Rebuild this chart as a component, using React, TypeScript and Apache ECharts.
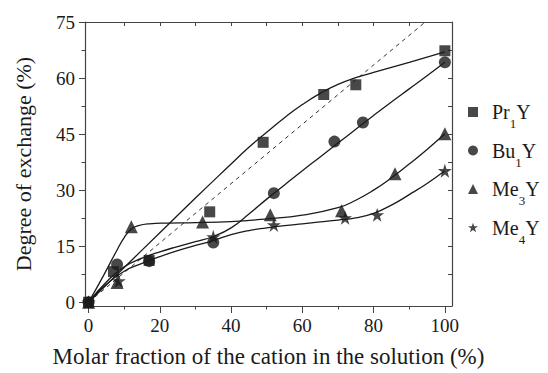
import React, { useEffect, useRef } from "react";
import * as echarts from "echarts";

// Measured points
const prX = [0, 7, 17, 34, 49, 66, 75, 100];
const prY = [0, 8.2, 11.2, 24.2, 42.8, 55.6, 58.2, 67.3];
const buX = [0, 8, 17, 35, 52, 69, 77, 100];
const buY = [0, 10.1, 11, 16, 29.2, 43, 48.1, 64.2];
const me3X = [0, 8, 12, 32, 51, 71, 86, 100];
const me3Y = [0, 5.3, 20.2, 21.5, 23.4, 24.5, 34.4, 45.1];
const me4X = [0, 8.5, 35, 52, 72, 81, 100];
const me4Y = [0, 5.7, 17.5, 20.7, 22.6, 23.4, 35.2];

// Fitted curves
const prFitX = [0, 10, 20, 30, 40, 45, 50, 55, 60, 65, 70, 75, 80, 90, 100];
const prFitY = [0, 9.3, 18.6, 27.9, 37, 41.5, 45.5, 49.4, 52.9, 55.9, 58.3, 60.1, 61.5, 64.2, 67];
const buFitX = [0, 5, 10, 15, 20, 25, 30, 35, 40, 45, 50, 55, 60, 65, 70, 75, 80, 85, 90, 95, 100];
const buFitY = [0, 5.4, 9.5, 11.8, 13.5, 14.9, 16.2, 17.6, 19.9, 23.6, 27.6, 31.4, 35.2, 38.9, 42.6, 46.3, 50, 53.6, 57.1, 60.6, 64.2];
const me3FitX = [0, 4, 8, 10, 12, 14, 17, 22, 30, 40, 50, 60, 70, 75, 80, 85, 90, 95, 100];
const me3FitY = [0, 6.8, 14, 17.3, 19.6, 20.5, 21, 21.2, 21.3, 21.6, 22.3, 23.3, 25.3, 27.3, 30, 33.3, 37, 40.9, 45.1];
const me4FitX = [0, 5, 10, 15, 20, 25, 30, 35, 40, 45, 50, 55, 60, 65, 70, 75, 80, 85, 90, 95, 100];
const me4FitY = [0, 4.8, 8.3, 10.4, 12.2, 13.8, 15.2, 16.5, 18.1, 19.2, 19.9, 20.5, 21, 21.5, 22, 22.6, 23.8, 26, 28.8, 31.8, 35.2];
const diagX = [0, 94.5];
const diagY = [0, 75];

const xTicks = [0, 20, 40, 60, 80, 100];
const xMinor = [10, 30, 50, 70, 90];
const xTop = [10, 20, 30, 40, 50, 60, 70, 80, 90];
const yTicks = [0, 15, 30, 45, 60, 75];
const yMinor = [7.5, 22.5, 37.5, 52.5, 67.5];
const yRight = [7.5, 15, 22.5, 30, 37.5, 45, 52.5, 60, 67.5];

const names = ["Pr1Y", "Bu1Y", "Me3Y", "Me4Y"];
const legendRich: Record<string, string> = {
  Pr1Y: "{n|Pr}{s|1}{n|Y}",
  Bu1Y: "{n|Bu}{s|1}{n|Y}",
  Me3Y: "{n|Me}{s|3}{n|Y}",
  Me4Y: "{n|Me}{s|4}{n|Y}",
};

const STAR =
  "path://M50,0 L61.2,34.5 L97.6,34.5 L68.2,55.9 L79.4,90.5 L50,69.1 L20.6,90.5 L31.8,55.9 L2.4,34.5 L38.8,34.5 Z";

const zip = (xs: number[], ys: number[]) => xs.map((x, i) => [x, ys[i]]);

const FONT = "Liberation Serif, Times New Roman, serif";
const INK = "#1a1a1a";
const FRAME = "#444";

export default function App() {
  const ref = useRef<HTMLDivElement>(null);
  useEffect(() => {
    if (!ref.current) return;
    const chart = echarts.init(ref.current, undefined, { renderer: "svg" });
    const scatter = (name: string, xs: number[], ys: number[], symbol: string, size: number) => ({
      name,
      type: "scatter",
      data: zip(xs, ys),
      symbol,
      symbolSize: size,
      itemStyle: { color: INK },
      z: 5,
    });
    const fit = (xs: number[], ys: number[]) => ({
      name: "_fit",
      type: "line",
      data: zip(xs, ys),
      symbol: "none",
      smooth: true,
      lineStyle: { color: INK, width: 1.3 },
      z: 3,
    });
    const frameLine = { show: true, onZero: false, lineStyle: { color: FRAME, width: 1.2 } };
    chart.setOption({
      animation: false,
      textStyle: { fontFamily: FONT },
      grid: { left: 85, right: 96, top: 22, bottom: 66 },
      legend: {
        data: names.map((n) => ({ name: n })),
        orient: "vertical",
        left: 463,
        top: 97,
        itemWidth: 10,
        itemHeight: 10,
        itemGap: 10.5,
        formatter: (n: string) => legendRich[n],
        textStyle: {
          fontFamily: FONT,
          color: INK,
          padding: [0, 0, 0, 9],
          rich: {
            n: { fontFamily: FONT, fontSize: 20, color: INK, lineHeight: 36, verticalAlign: "middle" },
            s: { fontFamily: FONT, fontSize: 13, color: INK, lineHeight: 13, verticalAlign: "bottom" },
          },
        },
      },
      xAxis: [
        {
          type: "value",
          min: -1,
          max: 102,
          position: "bottom",
          name: "Molar fraction of the cation in the solution (%)",
          nameLocation: "middle",
          nameGap: 39,
          nameTextStyle: { fontFamily: FONT, fontSize: 23, color: INK },
          axisLine: frameLine,
          axisTick: { customValues: xTicks, length: 7, inside: false, lineStyle: { color: FRAME } },
          axisLabel: { customValues: xTicks, fontFamily: FONT, fontSize: 19, color: INK, margin: 10 },
          splitLine: { show: false },
        },
        {
          type: "value",
          min: -1,
          max: 102,
          position: "bottom",
          axisLine: { show: false, onZero: false },
          axisTick: { customValues: xMinor, length: 3.5, inside: false, lineStyle: { color: FRAME } },
          axisLabel: { show: false },
          splitLine: { show: false },
        },
        {
          type: "value",
          min: -1,
          max: 102,
          position: "top",
          axisLine: frameLine,
          axisTick: { customValues: xTop, length: 4, inside: true, lineStyle: { color: FRAME } },
          axisLabel: { show: false },
          splitLine: { show: false },
        },
      ],
      yAxis: [
        {
          type: "value",
          min: -1,
          max: 75,
          position: "left",
          name: "Degree of exchange (%)",
          nameLocation: "middle",
          nameGap: 51,
          nameTextStyle: { fontFamily: FONT, fontSize: 22, color: INK },
          axisLine: frameLine,
          axisTick: { show: true, customValues: yTicks, length: 6, inside: false, lineStyle: { color: FRAME } },
          axisLabel: { customValues: yTicks, fontFamily: FONT, fontSize: 19, color: INK, margin: 10 },
          splitLine: { show: false },
        },
        {
          type: "value",
          min: -1,
          max: 75,
          position: "left",
          axisLine: { show: false, onZero: false },
          axisTick: { show: true, customValues: yMinor, length: 3.5, inside: false, lineStyle: { color: FRAME } },
          axisLabel: { show: false },
          splitLine: { show: false },
        },
        {
          type: "value",
          min: -1,
          max: 75,
          position: "right",
          axisLine: frameLine,
          axisTick: { show: true, customValues: yRight, length: 4, inside: true, lineStyle: { color: FRAME } },
          axisLabel: { show: false },
          splitLine: { show: false },
        },
      ],
      series: [
        {
          name: "_diag",
          type: "line",
          data: zip(diagX, diagY),
          symbol: "none",
          lineStyle: { color: "#333", width: 1, type: [4, 4] },
          z: 2,
        },
        fit(prFitX, prFitY),
        fit(buFitX, buFitY),
        fit(me3FitX, me3FitY),
        fit(me4FitX, me4FitY),
        scatter("Pr1Y", prX, prY, "rect", 11),
        scatter("Bu1Y", buX, buY, "circle", 12),
        scatter("Me3Y", me3X, me3Y, "triangle", 13),
        scatter("Me4Y", me4X, me4Y, STAR, 14),
      ],
    });
    return () => chart.dispose();
  }, []);
  return (
    <div
      ref={ref}
      style={{ position: "fixed", left: 0, top: 0, width: 548, height: 373, background: "#fff" }}
    />
  );
}
